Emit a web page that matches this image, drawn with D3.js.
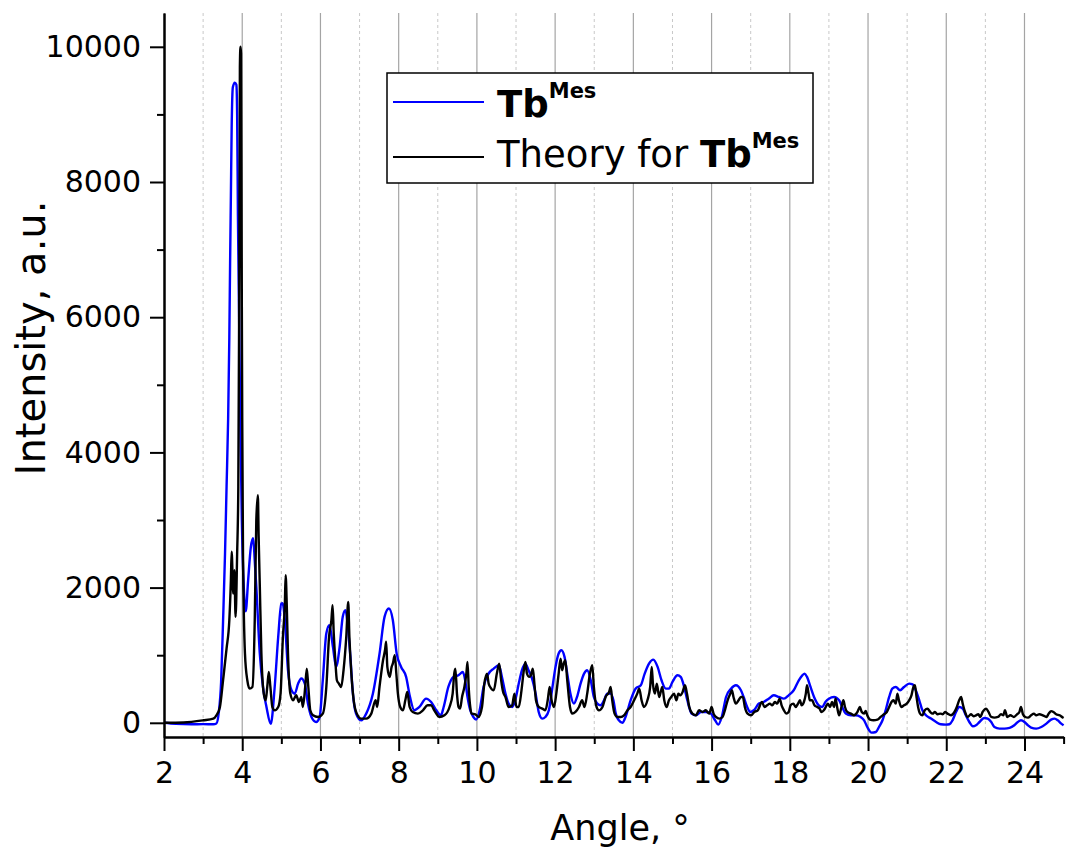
<!DOCTYPE html>
<html>
<head>
<meta charset="utf-8">
<script src="https://cdn.jsdelivr.net/npm/d3@7"></script>
<style>
  body { margin: 0; background: #fff; }
  svg { display: block; font-family: "DejaVu Sans", Verdana, sans-serif; }
</style>
</head>
<body>
<svg id="chart" width="1068" height="853"></svg>
<script>
// experimental pattern, [angle, intensity]
const expData = [
  [2.0, 0], [2.3, -15], [2.7, -22], [3.0, -20], [3.26, -22], [3.34, -10], [3.40, 150], [3.46, 600],
  [3.51, 1500], [3.56, 2500], [3.60, 3500], [3.64, 4500], [3.67, 5700], [3.69, 6800], [3.71, 7800],
  [3.73, 8800], [3.76, 9400], [3.81, 9470], [3.85, 9440], [3.87, 9000], [3.89, 7500], [3.92, 6000],
  [3.95, 4500], [3.99, 3000], [4.04, 2000], [4.09, 1650], [4.15, 2100], [4.22, 2600], [4.28, 2730],
  [4.32, 2400], [4.36, 2010], [4.45, 1020], [4.53, 530], [4.62, 234], [4.73, -15], [4.83, 530],
  [4.92, 1270], [5.00, 1764], [5.03, 1770], [5.09, 1520], [5.17, 780], [5.26, 480], [5.34, 430],
  [5.43, 580], [5.51, 655], [5.60, 580], [5.68, 285], [5.77, 86], [5.89, 12], [5.98, 86], [6.06, 630],
  [6.15, 1320], [6.23, 1443], [6.32, 1120], [6.40, 830], [6.49, 1120], [6.57, 1570], [6.64, 1665],
  [6.70, 1420], [6.76, 1020], [6.83, 430], [6.91, 136], [7.04, 37], [7.17, 136], [7.34, 430],
  [7.51, 1020], [7.64, 1570], [7.75, 1690], [7.85, 1520], [7.95, 1020], [8.06, 830], [8.19, 680],
  [8.29, 380], [8.40, 185], [8.53, 234], [8.70, 358], [8.83, 308], [8.96, 185], [9.08, 111],
  [9.15, 234], [9.27, 530], [9.40, 679], [9.53, 703], [9.64, 752], [9.70, 629], [9.76, 382],
  [9.83, 185], [9.91, 86], [9.98, 47], [10.07, 185], [10.17, 530], [10.30, 728], [10.43, 802],
  [10.56, 851], [10.64, 679], [10.73, 432], [10.81, 284], [10.90, 234], [10.98, 333], [11.07, 580],
  [11.15, 777], [11.24, 876], [11.32, 777], [11.41, 654], [11.50, 432], [11.58, 160], [11.67, 62],
  [11.75, 86], [11.84, 185], [11.92, 481], [12.01, 827], [12.09, 1024], [12.16, 1073], [12.24, 975],
  [12.31, 728], [12.39, 432], [12.48, 284], [12.56, 382], [12.65, 580], [12.74, 728], [12.82, 777],
  [12.91, 629], [12.99, 382], [13.08, 284], [13.16, 259], [13.25, 333], [13.33, 432], [13.42, 432],
  [13.49, 333], [13.55, 136], [13.63, 37], [13.72, 0], [13.80, 86], [13.93, 333], [14.06, 506],
  [14.19, 555], [14.29, 728], [14.40, 876], [14.51, 935], [14.62, 827], [14.72, 629], [14.83, 506],
  [14.91, 506], [15.00, 605], [15.13, 703], [15.21, 679], [15.30, 530], [15.38, 333], [15.49, 136],
  [15.60, 111], [15.73, 160], [15.85, 160], [15.98, 136], [16.09, 37], [16.17, -27], [16.26, 86],
  [16.37, 382], [16.50, 506], [16.62, 555], [16.75, 481], [16.82, 382], [16.91, 234], [16.99, 160],
  [17.08, 185], [17.21, 284], [17.33, 308], [17.46, 357], [17.59, 407], [17.72, 382], [17.85, 357],
  [17.97, 407], [18.10, 481], [18.23, 629], [18.32, 703], [18.38, 728], [18.44, 679], [18.53, 530],
  [18.62, 382], [18.74, 259], [18.83, 234], [18.91, 308], [19.00, 357], [19.13, 382], [19.26, 333],
  [19.34, 234], [19.43, 136], [19.56, 111], [19.68, 111], [19.81, 86], [19.90, 37], [19.98, -62],
  [20.09, -146], [20.20, -136], [20.28, -62], [20.37, 37], [20.45, 185], [20.54, 382], [20.62, 506],
  [20.71, 530], [20.82, 481], [20.92, 530], [21.05, 580], [21.14, 570], [21.22, 481], [21.31, 333],
  [21.39, 185], [21.48, 111], [21.61, 62], [21.74, 12], [21.86, -22], [21.99, -27], [22.08, -22],
  [22.16, 37], [22.25, 160], [22.33, 234], [22.42, 210], [22.50, 111], [22.59, 12], [22.68, -52],
  [22.76, -37], [22.85, 12], [22.97, 72], [23.06, 62], [23.15, 12], [23.23, -62], [23.36, -86],
  [23.49, -86], [23.62, -76], [23.74, -37], [23.83, 12], [23.91, 37], [24.00, 12], [24.09, -37],
  [24.17, -72], [24.30, -86], [24.43, -62], [24.56, -12], [24.68, 47], [24.77, 62], [24.85, 37],
  [24.94, -12], [25.0, -37]
];

// calculated pattern, [angle, intensity]
const theoryData = [
  [2.0, 0], [2.5, 5], [3.0, 37], [3.26, 62], [3.34, 111], [3.43, 234], [3.51, 629], [3.60, 1100],
  [3.67, 1518], [3.71, 2110], [3.73, 2530], [3.77, 1912], [3.80, 2258], [3.83, 1567], [3.87, 2504],
  [3.90, 3490], [3.92, 6000], [3.935, 8500], [3.94, 9700], [3.955, 10000], [3.97, 9900], [3.985, 7000],
  [4.00, 4500], [4.02, 2500], [4.07, 1024], [4.13, 629], [4.19, 506], [4.26, 530], [4.32, 1518],
  [4.36, 2998], [4.40, 3368], [4.42, 2751], [4.45, 2011], [4.49, 1024], [4.55, 432], [4.60, 333],
  [4.64, 530], [4.68, 752], [4.72, 530], [4.77, 234], [4.83, 185], [4.92, 234], [4.98, 432],
  [5.04, 1271], [5.09, 1764], [5.11, 2184], [5.14, 1715], [5.17, 1024], [5.23, 432], [5.30, 333],
  [5.38, 407], [5.45, 308], [5.51, 382], [5.55, 234], [5.61, 530], [5.65, 802], [5.69, 530],
  [5.74, 185], [5.81, 111], [5.94, 86], [6.06, 136], [6.15, 530], [6.22, 1271], [6.28, 1518],
  [6.31, 1740], [6.34, 1320], [6.38, 925], [6.42, 629], [6.47, 580], [6.53, 530], [6.59, 777],
  [6.66, 1271], [6.71, 1789], [6.74, 1271], [6.79, 728], [6.85, 333], [6.93, 136], [7.04, 62],
  [7.17, 62], [7.30, 136], [7.41, 333], [7.45, 234], [7.51, 530], [7.60, 925], [7.65, 1073],
  [7.68, 1200], [7.71, 827], [7.77, 678], [7.82, 827], [7.85, 875], [7.90, 999], [7.94, 728],
  [7.98, 432], [8.04, 234], [8.11, 185], [8.17, 333], [8.22, 456], [8.28, 234], [8.36, 160],
  [8.49, 136], [8.62, 185], [8.74, 259], [8.83, 259], [8.91, 185], [9.04, 86], [9.17, 111],
  [9.30, 234], [9.38, 432], [9.42, 727], [9.45, 802], [9.49, 432], [9.53, 234], [9.57, 210],
  [9.62, 382], [9.68, 530], [9.73, 728], [9.76, 901], [9.79, 530], [9.83, 234], [9.87, 136],
  [9.96, 126], [10.04, 86], [10.13, 234], [10.19, 580], [10.26, 728], [10.30, 580], [10.34, 530],
  [10.43, 481], [10.51, 728], [10.57, 876], [10.62, 629], [10.67, 456], [10.73, 382], [10.81, 234],
  [10.90, 259], [10.96, 432], [11.01, 234], [11.07, 234], [11.14, 481], [11.20, 777], [11.24, 901],
  [11.28, 728], [11.34, 679], [11.38, 703], [11.43, 802], [11.47, 580], [11.51, 333], [11.58, 234],
  [11.67, 210], [11.75, 185], [11.81, 333], [11.86, 530], [11.91, 333], [11.97, 234], [12.03, 432],
  [12.09, 728], [12.14, 950], [12.18, 777], [12.22, 876], [12.26, 925], [12.31, 629], [12.38, 234],
  [12.44, 136], [12.52, 160], [12.61, 234], [12.69, 333], [12.75, 234], [12.82, 432], [12.89, 728],
  [12.95, 851], [12.99, 530], [13.06, 234], [13.12, 185], [13.21, 234], [13.29, 382], [13.38, 456],
  [13.42, 530], [13.46, 333], [13.52, 136], [13.59, 86], [13.68, 86], [13.76, 111], [13.85, 185],
  [13.93, 234], [14.02, 333], [14.10, 432], [14.15, 506], [14.21, 333], [14.27, 234], [14.36, 333],
  [14.43, 530], [14.47, 827], [14.50, 580], [14.55, 432], [14.60, 580], [14.66, 382], [14.70, 456],
  [14.74, 530], [14.79, 333], [14.85, 234], [14.91, 333], [14.97, 382], [15.04, 432], [15.10, 333],
  [15.15, 432], [15.20, 407], [15.26, 456], [15.32, 555], [15.37, 432], [15.43, 234], [15.51, 136],
  [15.60, 111], [15.68, 185], [15.77, 160], [15.85, 185], [15.94, 136], [16.00, 234], [16.05, 136],
  [16.11, 86], [16.20, 62], [16.28, 86], [16.34, 185], [16.41, 333], [16.48, 432], [16.52, 481],
  [16.56, 382], [16.62, 284], [16.69, 333], [16.75, 382], [16.80, 382], [16.85, 234], [16.92, 136],
  [17.01, 111], [17.09, 160], [17.18, 185], [17.29, 308], [17.35, 234], [17.42, 259], [17.49, 284],
  [17.55, 259], [17.62, 308], [17.68, 284], [17.74, 357], [17.79, 259], [17.85, 185], [17.91, 136],
  [17.97, 160], [18.02, 259], [18.09, 284], [18.15, 234], [18.21, 284], [18.26, 333], [18.30, 259],
  [18.36, 308], [18.41, 432], [18.44, 555], [18.48, 432], [18.51, 333], [18.57, 333], [18.63, 259],
  [18.70, 234], [18.76, 210], [18.81, 160], [18.87, 185], [18.92, 234], [18.97, 284], [19.03, 234],
  [19.08, 308], [19.13, 234], [19.17, 357], [19.21, 234], [19.26, 111], [19.32, 234], [19.37, 333],
  [19.41, 234], [19.47, 160], [19.56, 136], [19.64, 111], [19.73, 160], [19.79, 234], [19.84, 160],
  [19.90, 136], [19.94, 175], [19.98, 111], [20.05, 47], [20.14, 37], [20.24, 47], [20.32, 86],
  [20.41, 126], [20.48, 160], [20.54, 234], [20.60, 308], [20.65, 333], [20.71, 284], [20.75, 432],
  [20.79, 333], [20.85, 234], [20.92, 259], [20.99, 284], [21.05, 333], [21.11, 407], [21.16, 530],
  [21.20, 555], [21.24, 382], [21.28, 234], [21.33, 136], [21.39, 111], [21.45, 185], [21.52, 210],
  [21.59, 160], [21.65, 136], [21.71, 160], [21.78, 126], [21.85, 136], [21.91, 126], [21.97, 160],
  [22.03, 136], [22.12, 111], [22.21, 160], [22.27, 234], [22.33, 333], [22.38, 382], [22.42, 284],
  [22.48, 160], [22.55, 86], [22.63, 126], [22.70, 96], [22.76, 111], [22.82, 126], [22.87, 86],
  [22.93, 160], [23.02, 210], [23.08, 160], [23.15, 86], [23.23, 77], [23.32, 86], [23.40, 126],
  [23.46, 111], [23.50, 185], [23.56, 86], [23.64, 111], [23.73, 86], [23.81, 126], [23.87, 160],
  [23.91, 234], [23.96, 126], [24.02, 86], [24.09, 77], [24.17, 111], [24.24, 136], [24.30, 111],
  [24.38, 126], [24.47, 111], [24.56, 86], [24.62, 136], [24.68, 173], [24.74, 160], [24.81, 126],
  [24.90, 111], [24.98, 77], [25.0, 70]
];

const xMajor = [2, 4, 6, 8, 10, 12, 14, 16, 18, 20, 22, 24];
const xMinor = [3, 5, 7, 9, 11, 13, 15, 17, 19, 21, 23, 25];
const yMajor = [0, 2000, 4000, 6000, 8000, 10000];
const yMinor = [1000, 3000, 5000, 7000, 9000];

const svg = d3.select("#chart");
const margin = {top: 13, right: 5, bottom: 116, left: 164};
const width = 1068, height = 853;

const x = d3.scaleLinear().domain([2, 25]).range([margin.left, 1063.6]);
const y = d3.scaleLinear().domain([-210, 10500]).range([height - margin.bottom, margin.top]);
const plotBottom = height - margin.bottom;

// vertical grid
const grid = svg.append("g");
grid.selectAll("line.major")
    .data(xMajor.filter(d => d > 2))
    .join("line")
    .attr("x1", d => x(d)).attr("x2", d => x(d))
    .attr("y1", margin.top).attr("y2", plotBottom)
    .attr("stroke", "#a4a4a4").attr("stroke-width", 1.2);
grid.selectAll("line.minor")
    .data(xMinor.filter(d => d < 25))
    .join("line")
    .attr("class", "minor")
    .attr("x1", d => x(d)).attr("x2", d => x(d))
    .attr("y1", margin.top).attr("y2", plotBottom)
    .attr("stroke", "#c8c8c8").attr("stroke-width", 1)
    .attr("stroke-dasharray", "3,3");

const line = d3.line().curve(d3.curveMonotoneX).x(d => x(d[0])).y(d => y(d[1]));

svg.append("path").datum(expData)
    .attr("d", line).attr("fill", "none")
    .attr("stroke", "#0000ff").attr("stroke-width", 2.4)
    .attr("stroke-linejoin", "round");
svg.append("path").datum(theoryData)
    .attr("d", line).attr("fill", "none")
    .attr("stroke", "#000").attr("stroke-width", 2.4)
    .attr("stroke-linejoin", "round");

// axes
function styleAxis(g) {
    g.selectAll("path.domain").attr("stroke", "#000").attr("stroke-width", 2);
    g.selectAll(".tick line").attr("stroke", "#000").attr("stroke-width", 2);
    g.selectAll("text").attr("fill", "#000").style("font-size", "30px")
        .style("font-family", "'DejaVu Sans', Verdana, sans-serif");
}

svg.append("g")
    .attr("transform", `translate(0,${plotBottom})`)
    .call(d3.axisBottom(x).tickValues(xMinor).tickSize(7).tickSizeOuter(0).tickFormat(""))
    .call(styleAxis);
svg.append("g")
    .attr("transform", `translate(0,${plotBottom})`)
    .call(d3.axisBottom(x).tickValues(xMajor).tickSize(14).tickSizeOuter(0).tickPadding(11).tickFormat(d3.format("d")))
    .call(styleAxis);

svg.append("g")
    .attr("transform", `translate(${margin.left},0)`)
    .call(d3.axisLeft(y).tickValues(yMinor).tickSize(7).tickSizeOuter(0).tickFormat(""))
    .call(styleAxis);
svg.append("g")
    .attr("transform", `translate(${margin.left},0)`)
    .call(d3.axisLeft(y).tickValues(yMajor).tickSize(14).tickSizeOuter(0).tickPadding(9).tickFormat(d3.format("d")))
    .call(styleAxis);

// axis titles
svg.append("text")
    .attr("x", 620).attr("y", 840)
    .attr("text-anchor", "middle")
    .style("font-size", "35px")
    .text("Angle, °");

svg.append("text")
    .attr("transform", "translate(45,338) rotate(-90)")
    .attr("text-anchor", "middle")
    .style("font-size", "40px")
    .text("Intensity, a.u.");

// legend
const legend = svg.append("g");
legend.append("rect")
    .attr("x", 387).attr("y", 73).attr("width", 426).attr("height", 110)
    .attr("fill", "#fff").attr("stroke", "#000").attr("stroke-width", 1.5);

const legendItems = [
    {color: "#0000ff", y: 102, base: 117, pre: ""},
    {color: "#000", y: 157, base: 167, pre: "Theory for "}
];
legendItems.forEach(item => {
    legend.append("line")
        .attr("x1", 393).attr("x2", 484)
        .attr("y1", item.y).attr("y2", item.y)
        .attr("stroke", item.color).attr("stroke-width", 2);
    const t = legend.append("text")
        .attr("x", 497).attr("y", item.base)
        .style("font-size", "37px");
    if (item.pre) t.append("tspan").text(item.pre);
    t.append("tspan").attr("font-weight", "bold").text("Tb");
    t.append("tspan").attr("font-weight", "bold")
        .style("font-size", "21px").attr("dy", -19).text("Mes");
});
</script>
</body>
</html>
